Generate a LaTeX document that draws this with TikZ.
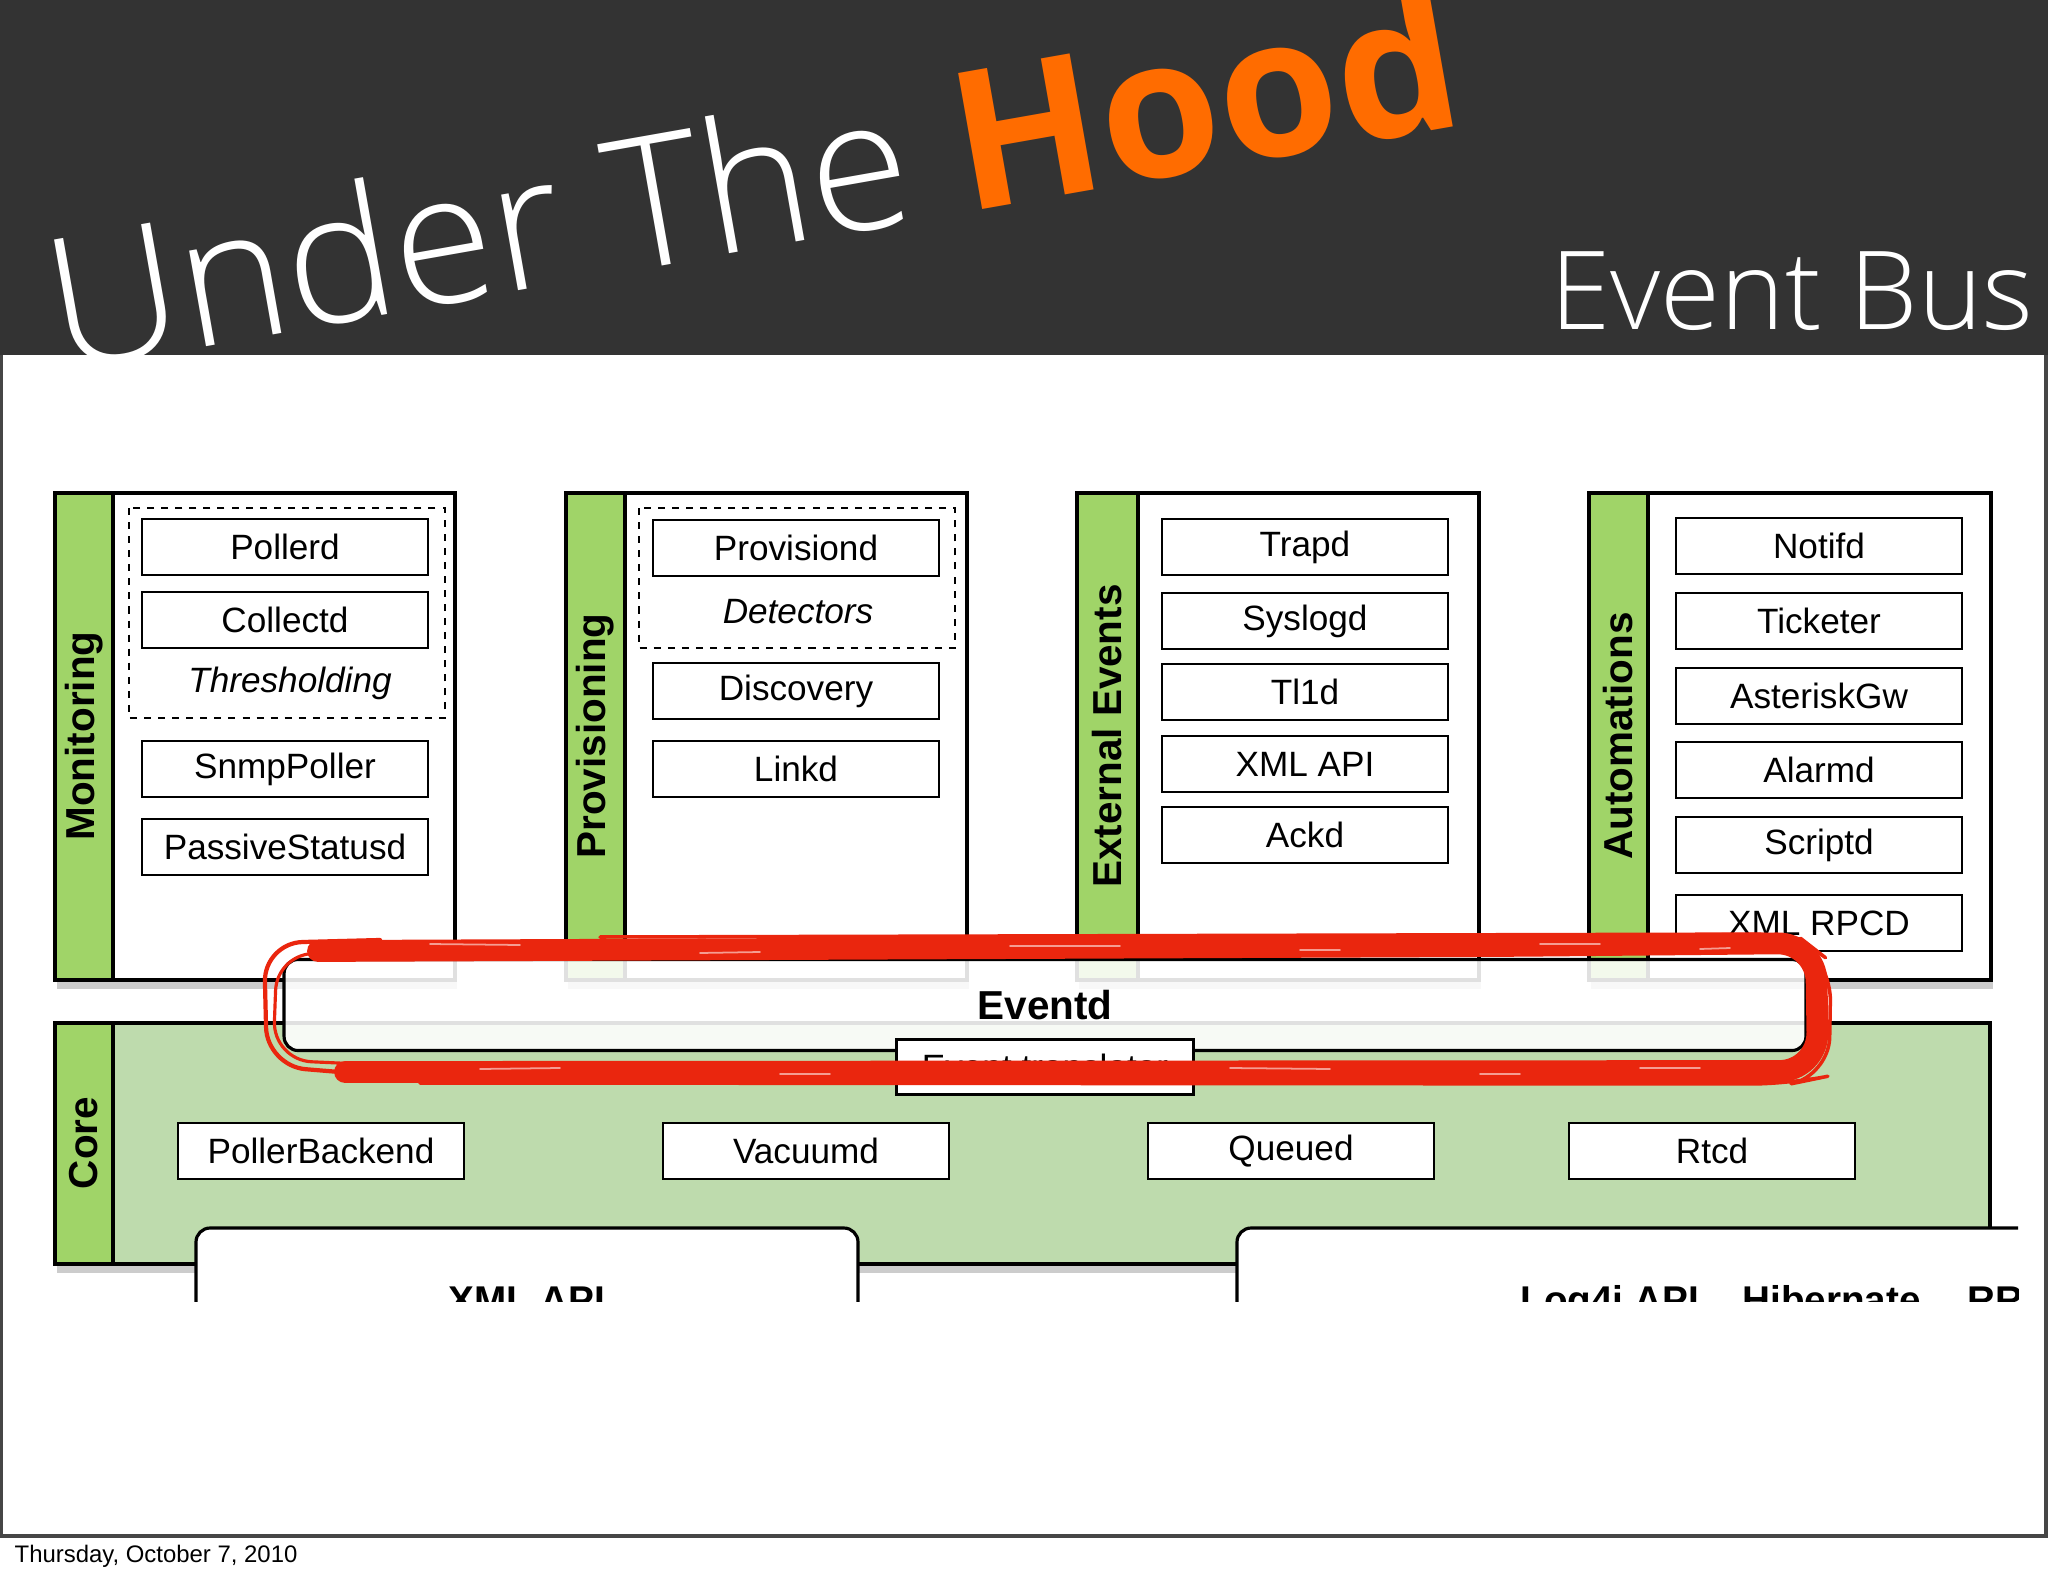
\documentclass[tikz,border=0pt]{standalone}
\usepackage{fontspec}
\setmainfont{Liberation Sans}
\IfFontExistsTF{Open Sans Light}
  {\newfontfamily\titlefont{Open Sans Light}}
  {\newfontfamily\titlefont{Open Sans}}
\newfontfamily\hoodfont{Open Sans}
\usepackage{xcolor}
\usepackage{tikz}
\usetikzlibrary{positioning,shadows}
\definecolor{barGray}{RGB}{51,51,51}
\definecolor{hoodOrange}{RGB}{255,108,0}
\definecolor{stripGreen}{RGB}{160,212,104}
\definecolor{coreGreen}{RGB}{190,219,173}
\definecolor{scribbleRed}{RGB}{234,38,14}

\begin{document}
\begin{tikzpicture}[
  x=0.01cm, y=-0.01cm,
  every node/.style={font=\fontsize{10}{12}\selectfont},
  daemon/.style={draw, line width=0.75pt, fill=white, minimum width=2.86cm,
    minimum height=0.56cm, inner sep=0pt},
  groupbox/.style={draw, line width=0.75pt, dash pattern=on 2pt off 2pt},
  column/.style={draw, line width=0.9pt, fill=white,
    drop shadow={shadow xshift=0.6pt, shadow yshift=-2.6pt, opacity=0.4}},
  strip/.style={draw, line width=0.9pt, fill=stripGreen},
  striplabel/.style={rotate=90, font=\bfseries\fontsize{11.5}{13}\selectfont},
  scribble/.style={draw=scribbleRed, line cap=round, line join=round, rounded corners=11pt},
  streak/.style={white, opacity=0.55, line width=0.5pt, line cap=round}
]
\useasboundingbox (0,0) rectangle (2048,1576);
\fill[white] (0,0) rectangle (2048,1576);

% ── Title bar ─────────────────────────────────────────────────────────────
\fill[barGray] (0,0) rectangle (2048,355);
\node[anchor=base west, rotate=10, inner sep=0pt, text=white,
  font=\titlefont\fontsize{52}{52}\selectfont] (title) at (60,372)
  {Under The \textcolor{hoodOrange}{\hoodfont\bfseries\fontsize{55}{55}\selectfont Hood}};
\node[anchor=base east, inner sep=0pt, text=white,
  font=\titlefont\fontsize{31}{31}\selectfont] (subtitle) at (2034,329) {Event Bus};

% ── Monitoring ────────────────────────────────────────────────────────────
\draw[column] (55,493) rectangle (455,980);
\draw[strip] (55,493) rectangle (113,980);
\node[striplabel] (monitoring) at (84,736) {Monitoring};
\draw[groupbox] (129,508) rectangle (445,718);
\node[daemon] (pollerd) at (285,547) {Pollerd};
\node[daemon] (collectd) at (285,620) {Collectd};
\node[font=\itshape\fontsize{10}{12}\selectfont] (thresholding) at (290,683) {Thresholding};
\node[daemon] (snmppoller) at (285,769) {SnmpPoller};
\node[daemon] (passive) at (285,847) {PassiveStatusd};

% ── Provisioning ──────────────────────────────────────────────────────────
\draw[column] (566,493) rectangle (967,980);
\draw[strip] (566,493) rectangle (625,980);
\node[striplabel] (provisioning) at (595,736) {Provisioning};
\draw[groupbox] (639,508) rectangle (955,648);
\node[daemon] (provisiond) at (796,548) {Provisiond};
\node[font=\itshape\fontsize{10}{12}\selectfont] (detectors) at (798,612) {Detectors};
\node[daemon] (discovery) at (796,691) {Discovery};
\node[daemon] (linkd) at (796,769) {Linkd};

% ── External Events ───────────────────────────────────────────────────────
\draw[column] (1077,493) rectangle (1479,980);
\draw[strip] (1077,493) rectangle (1138,980);
\node[striplabel] (external) at (1107,736) {External Events};
\node[daemon] (trapd) at (1305,547) {Trapd};
\node[daemon] (syslogd) at (1305,621) {Syslogd};
\node[daemon] (tl1d) at (1305,692) {Tl1d};
\node[daemon] (xmlapi) at (1305,764) {XML API};
\node[daemon] (ackd) at (1305,835) {Ackd};

% ── Automations ───────────────────────────────────────────────────────────
\draw[column] (1589,493) rectangle (1991,980);
\draw[strip] (1589,493) rectangle (1648,980);
\node[striplabel] (automations) at (1618,736) {Automations};
\node[daemon] (notifd) at (1819,546) {Notifd};
\node[daemon] (ticketer) at (1819,621) {Ticketer};
\node[daemon] (asteriskgw) at (1819,696) {AsteriskGw};
\node[daemon] (alarmd) at (1819,770) {Alarmd};
\node[daemon] (scriptd) at (1819,845) {Scriptd};
\node[daemon] (xmlrpcd) at (1819,923) {XML RPCD};

% ── Core ──────────────────────────────────────────────────────────────────
\draw[column, fill=coreGreen] (55,1023) rectangle (1990,1264);
\draw[strip] (55,1023) rectangle (113,1264);
\node[striplabel] (core) at (84,1143) {Core};
\node[daemon] (pollerbackend) at (321,1151) {PollerBackend};
\node[daemon] (vacuumd) at (806,1151) {Vacuumd};
\node[daemon] (queued) at (1291,1151) {Queued};
\node[daemon] (rtcd) at (1712,1151) {Rtcd};

% ── Eventd bus ────────────────────────────────────────────────────────────
\node[draw, line width=0.9pt, fill=white, fill opacity=0.88, text opacity=1,
  rounded corners=4pt, minimum width=15.21cm, minimum height=0.91cm,
  font=\bfseries\fontsize{11.5}{13}\selectfont] (eventd) at (1045,1005) {Eventd};
\node[daemon, minimum width=2.97cm, minimum height=0.55cm] (translator)
  at (1045,1067) {Event translator};

% ── Red scribble round the bus ────────────────────────────────────────────
\draw[scribble, line width=6.2pt] (318,951) -- (1500,946) -- (1816,943) -- (1818,1071) -- (345,1072);
\draw[scribble, line width=2.5pt] (330,947) -- (1650,941);
\draw[scribble, line width=1.2pt] (380,940) -- (264,943) -- (267,1066) -- (400,1077);
\draw[scribble, line width=0.9pt] (350,955) -- (277,952) -- (273,1060) -- (360,1064);
\draw[scribble, line width=1pt] (600,937) -- (1795,934) -- (1831,962) -- (1829,1076) -- (1790,1084) -- (420,1083);
\draw[streak] (430,944) -- (520,945) (700,953) -- (760,952) (1010,946) -- (1120,946)
  (1300,950) -- (1340,950) (1540,944) -- (1600,944) (1700,949) -- (1730,948);
\draw[streak] (480,1069) -- (560,1068) (780,1074) -- (830,1074) (1230,1068) -- (1330,1069)
  (1480,1074) -- (1520,1074) (1640,1068) -- (1700,1068);

% ── Lower API boxes (cut off) ─────────────────────────────────────────────
\path[fill=white, rounded corners=4pt] (196,1310) -- (196,1228) -- (858,1228) -- (858,1310);
\draw[line width=0.9pt, rounded corners=4pt] (196,1310) -- (196,1228) -- (858,1228) -- (858,1310);
\path[fill=white, rounded corners=4pt] (1237,1310) -- (1237,1228) -- (2018,1228) -- (2018,1310);
\draw[line width=0.9pt, rounded corners=4pt] (1237,1310) -- (1237,1228) -- (2018,1228);
\begin{scope}
  \clip (190,1228) rectangle (2018,1302);
  \node[anchor=base, font=\bfseries\fontsize{11}{13}\selectfont] (xmlapibox) at (527,1313) {XML API};
  \node[anchor=base west, font=\bfseries\fontsize{11}{13}\selectfont] (log4j) at (1508,1313) {Log4j API};
  \node[anchor=base west, font=\bfseries\fontsize{11}{13}\selectfont] (hibernate) at (1730,1313) {Hibernate};
  \node[anchor=base west, font=\bfseries\fontsize{11}{13}\selectfont] (rrd) at (1955,1313) {RRD};
\end{scope}
\fill[white] (0,1302) rectangle (2048,1536);

% ── Slide frame and footer ────────────────────────────────────────────────
\draw[gray!55!black, line width=0.9pt] (1,355) -- (1,1536) -- (2046,1536) -- (2046,355);
\node[anchor=base west, inner sep=0pt, font=\fontsize{6.8}{8}\selectfont] (date)
  at (14,1562) {Thursday, October 7, 2010};

\end{tikzpicture}
\end{document}
